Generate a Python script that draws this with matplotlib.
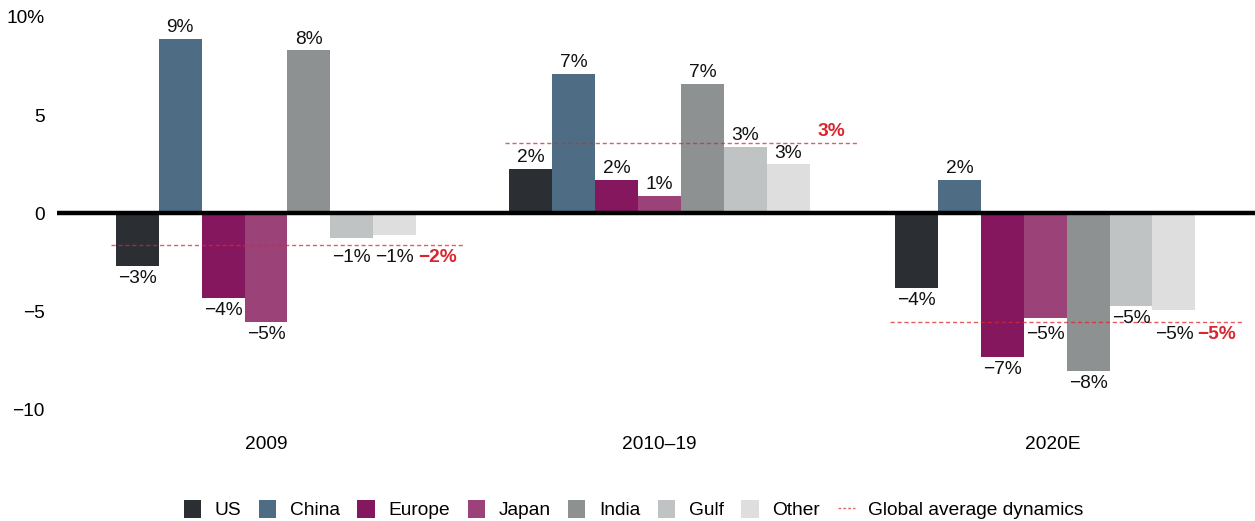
import numpy as np
import matplotlib.pyplot as plt
from matplotlib.patches import Patch
from matplotlib.lines import Line2D

plt.rcParams['font.family'] = ['Liberation Sans', 'DejaVu Sans']

periods = ['2009', '2010–19', '2020E']
regions = ['US', 'China', 'Europe', 'Japan', 'India', 'Gulf', 'Other']
colors = ['#2b2f33', '#4e6d84', '#85175e', '#9b4279', '#8e9192', '#c0c3c4', '#dedede']

values = {
    '2009':    [-2.65, 8.9, -4.3, -5.5, 8.3, -1.25, -1.1],
    '2010–19': [2.25, 7.1, 1.7, 0.9, 6.6, 3.4, 2.5],
    '2020E':   [-3.8, 1.7, -7.3, -5.3, -8.0, -4.7, -4.9],
}
labels = {
    '2009':    ['−3%', '9%', '−4%', '−5%', '8%', '−1%', '−1%'],
    '2010–19': ['2%', '7%', '2%', '1%', '7%', '3%', '3%'],
    '2020E':   ['−4%', '2%', '−7%', '−5%', '−8%', '−5%', '−5%'],
}
global_avg = [-1.6, 3.6, -5.5]
global_labels = ['−2%', '3%', '−5%']

red = '#d9262e'
width = 0.109
group_x = [0, 1, 1.98]
fs = 13.8

fig = plt.figure(figsize=(12.55, 5.21), dpi=100)
ax = fig.add_axes([0.0454, 0.2131, 0.9546, 0.7543])

for g, p in enumerate(periods):
    start = group_x[g] - 3.5 * width
    gv = global_avg[g]
    for i, r in enumerate(regions):
        x = start + (i + 0.5) * width
        v = values[p][i]
        ax.bar(x, v, width, color=colors[i], linewidth=0)
        if v >= 0:
            y, off, va = v, 2, 'bottom'
        else:
            # labels that would collide with the average line go below it
            if v > gv and v - gv < 0.7 and not (g == 2 and i == 5):
                y = gv
            else:
                y = v
            off, va = -3, 'top'
        ax.annotate(labels[p][i], (x, y), xytext=(0, off), textcoords='offset points',
                    ha='center', va=va, fontsize=fs, color='#111111')
    # global average line
    x0 = start - 0.012
    x1 = start + 8 * width + 0.01
    ax.plot([x0, x1], [gv, gv], color=red, lw=1, linestyle=(0, (3, 2)), alpha=0.75)
    lx = start + 7.5 * width
    if gv >= 0:
        ax.annotate(global_labels[g], (lx, gv), xytext=(0, 2), textcoords='offset points',
                    ha='center', va='bottom', fontsize=fs, color=red, fontweight='bold')
    else:
        ax.annotate(global_labels[g], (lx, gv), xytext=(0, -3), textcoords='offset points',
                    ha='center', va='top', fontsize=fs, color=red, fontweight='bold')

ax.axhline(0, color='black', lw=3.2, zorder=5)

ax.set_xlim(-0.531, 2.513)
ax.set_ylim(-10, 10)
ax.set_yticks([-10, -5, 0, 5, 10])
ax.set_yticklabels(['−10', '−5', '0', '5', '10%'], fontsize=fs)
ax.set_xticks([0, 1, 2])
ax.set_xticklabels(periods, fontsize=fs)
ax.tick_params(axis='both', length=0)
ax.tick_params(axis='y', pad=9)
ax.tick_params(axis='x', pad=19)
for s in ax.spines.values():
    s.set_visible(False)

handles = [Patch(facecolor=c, edgecolor='none') for c in colors]
handles.append(Line2D([0], [0], color=red, lw=1, linestyle=(0, (2, 1.5)), alpha=0.7))
fig.legend(handles, regions + ['Global average dynamics'], loc='lower center',
           bbox_to_anchor=(0.505, -0.03), ncol=8, frameon=False, fontsize=fs,
           handlelength=0.9, handleheight=1.1, columnspacing=0.93, handletextpad=0.7)

fig.savefig('out.png', dpi=100)
